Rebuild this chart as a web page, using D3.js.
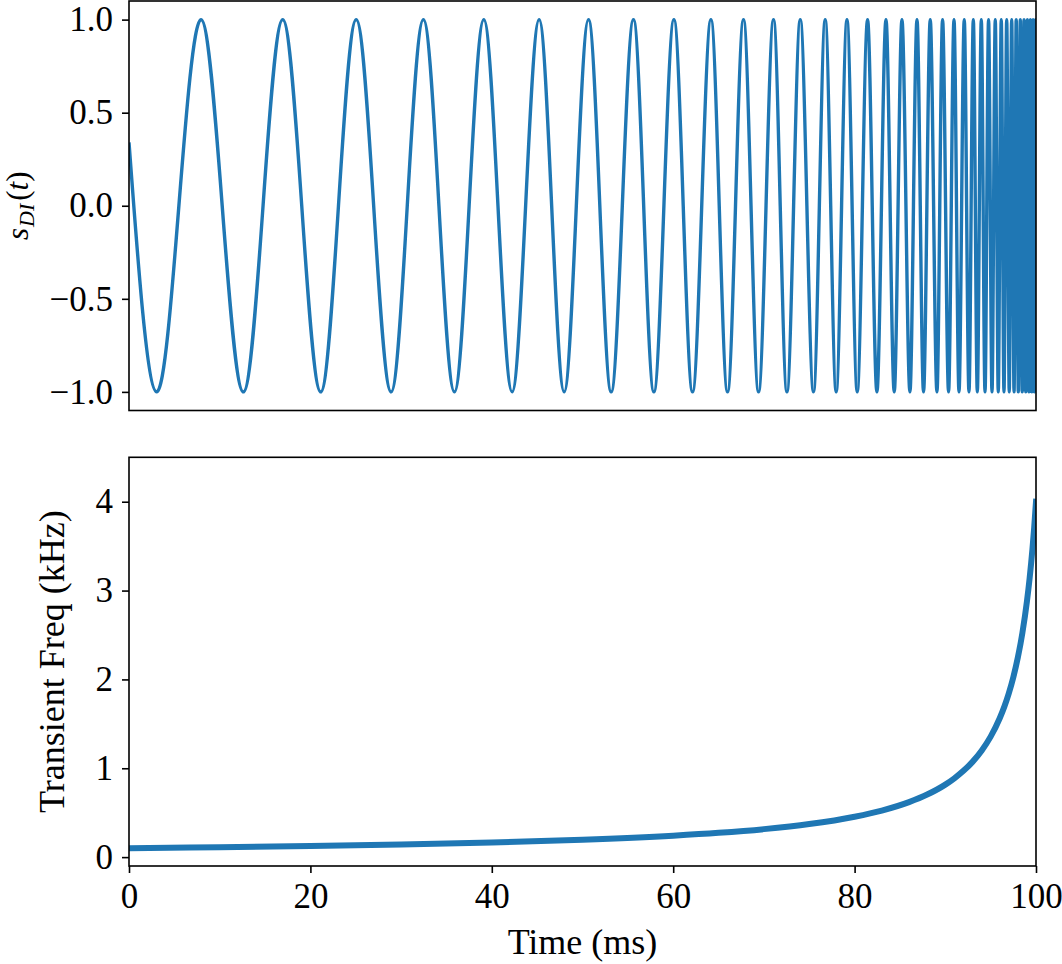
<!DOCTYPE html>
<html><head><meta charset="utf-8">
<script src="https://cdn.jsdelivr.net/npm/d3@7"></script>
<style>body{margin:0;background:#fff}</style>
</head><body>
<svg id="c" width="1062" height="964"></svg>
<script>
// ---- data ----
const timeTicks = [0, 20, 40, 60, 80, 100];
const signalTicks = [-1, -0.5, 0, 0.5, 1];
const freqTicks = [0, 1, 2, 3, 4];

// times (ms) of the troughs (-1) and peaks (+1) of s_DI(t)
const troughTimes = [3.06, 12.61, 21.14, 28.90, 35.88, 42.24, 47.98, 53.16, 57.87, 62.13,
  65.99, 69.41, 72.54, 75.47, 77.97, 80.29, 82.46, 84.37, 86.10, 87.60, 89.08, 90.36,
  91.51, 92.61, 93.53, 94.38, 95.15, 95.84, 96.47, 97.05, 97.58, 98.05, 98.48, 98.87,
  99.22, 99.54, 99.82];
const peakTimes = [7.94, 16.95, 25.05, 32.46, 39.12, 45.22, 50.66, 55.62, 60.08, 64.16,
  67.75, 71.06, 74.01, 76.76, 79.16, 81.43, 83.46, 85.22, 86.88, 88.34, 89.70, 90.96,
  92.09, 93.09, 93.97, 94.77, 95.51, 96.17, 96.77, 97.32, 97.82, 98.27, 98.68, 99.05,
  99.38, 99.68, 99.96];
const edgeTimes = [0, 100];
const edgeValues = [0.34, 0.45];

// transient frequency (kHz)
const freqTimes = [0, 10, 20, 30, 40, 50, 60, 65, 70, 75, 80, 83, 86, 88, 90, 91, 92, 93,
  94, 95, 96, 96.5, 97, 97.5, 98, 98.5, 99, 99.3, 99.6, 99.8, 100];
const freqValues = [0.100, 0.111, 0.124, 0.141, 0.164, 0.195, 0.241, 0.273, 0.315, 0.372,
  0.455, 0.524, 0.619, 0.704, 0.816, 0.887, 0.971, 1.072, 1.198, 1.356, 1.563, 1.691,
  1.843, 2.025, 2.247, 2.524, 2.878, 3.142, 3.460, 3.711, 4.000];

// ---- build ----
const FONT = "Liberation Serif";
const signal = [];
edgeTimes.forEach((t, i) => signal.push({t, v: edgeValues[i]}));
troughTimes.forEach(t => signal.push({t, v: -1}));
peakTimes.forEach(t => signal.push({t, v: 1}));
signal.sort((a, b) => a.t - b.t);
const freq = freqTimes.map((t, i) => ({t, v: freqValues[i]}));

const svg = d3.select("#c");
const L = 129, R = 1036;
const top1 = 1, bot1 = 410.5, top2 = 457.3, bot2 = 866;
const blue = "#1f77b4";

const x = d3.scaleLinear().domain([0, 100]).range([L, R]);
const y1 = d3.scaleLinear().domain([-1.1, 1.1]).range([bot1, top1]);
const y2 = d3.scaleLinear().domain([-0.1, 4.5]).range([bot2, top2]);

const defs = svg.append("defs");
defs.append("clipPath").attr("id", "clip1").append("rect")
  .attr("x", L).attr("y", top1).attr("width", R - L).attr("height", bot1 - top1);
defs.append("clipPath").attr("id", "clip2").append("rect")
  .attr("x", L).attr("y", top2).attr("width", R - L).attr("height", bot2 - top2);

// top line
const line1 = d3.line().x(d => x(d.t)).y(d => y1(d.v)).curve(d3.curveMonotoneX);
svg.append("path").datum(signal).attr("d", line1)
  .attr("fill", "none").attr("stroke", blue).attr("stroke-width", 3.4)
  .attr("stroke-linejoin", "round").attr("clip-path", "url(#clip1)");

// bottom line
const line2 = d3.line().x(d => x(d.t)).y(d => y2(d.v)).curve(d3.curveMonotoneX);
svg.append("path").datum(freq).attr("d", line2)
  .attr("fill", "none").attr("stroke", blue).attr("stroke-width", 6)
  .attr("stroke-linecap", "square").attr("stroke-linejoin", "round")
  .attr("clip-path", "url(#clip2)");

function styleAxis(g, fs) {
  g.attr("font-family", FONT).attr("font-size", fs);
  g.select(".domain").remove();
  g.selectAll(".tick line").attr("stroke", "#000").attr("stroke-width", 1.6);
  g.selectAll(".tick text").attr("font-family", FONT).attr("font-size", fs).attr("fill", "#000");
}

// axes
svg.append("g").attr("transform", `translate(${L},0)`)
  .call(d3.axisLeft(y1).tickValues(signalTicks).tickFormat(d3.format(".1f")).tickSize(7).tickPadding(9))
  .call(g => styleAxis(g, 35));

svg.append("g").attr("transform", `translate(${L},0)`)
  .call(d3.axisLeft(y2).tickValues(freqTicks).tickFormat(d3.format("d")).tickSize(7).tickPadding(9))
  .call(g => styleAxis(g, 35));

svg.append("g").attr("transform", `translate(0,${bot2})`)
  .call(d3.axisBottom(x).tickValues(timeTicks).tickFormat(d3.format("d")).tickSize(7).tickPadding(10))
  .call(g => styleAxis(g, 35));

// spines
[[top1, bot1], [top2, bot2]].forEach(([t, b]) => {
  svg.append("rect").attr("x", L).attr("y", t).attr("width", R - L).attr("height", b - t)
    .attr("fill", "none").attr("stroke", "#000").attr("stroke-width", 1.6);
});

// labels
svg.append("text").attr("x", (L + R) / 2).attr("y", 954)
  .attr("text-anchor", "middle").attr("font-family", FONT).attr("font-size", 36)
  .text("Time (ms)");

svg.append("text").attr("transform", `translate(64,${(top2 + bot2) / 2}) rotate(-90)`)
  .attr("text-anchor", "middle").attr("font-family", FONT).attr("font-size", 36)
  .text("Transient Freq (kHz)");

const yl = svg.append("text").attr("transform", `translate(28,${(top1 + bot1) / 2}) rotate(-90)`)
  .attr("text-anchor", "middle").attr("font-family", FONT).attr("font-size", 31);
yl.append("tspan").attr("font-style", "italic").text("s");
yl.append("tspan").attr("font-style", "italic").attr("font-size", 22).attr("dx", 1).attr("dy", 6).text("DI");
yl.append("tspan").attr("dx", 3).attr("dy", -6).text("(");
yl.append("tspan").attr("font-style", "italic").text("t");
yl.append("tspan").text(")");
</script>
</body></html>
